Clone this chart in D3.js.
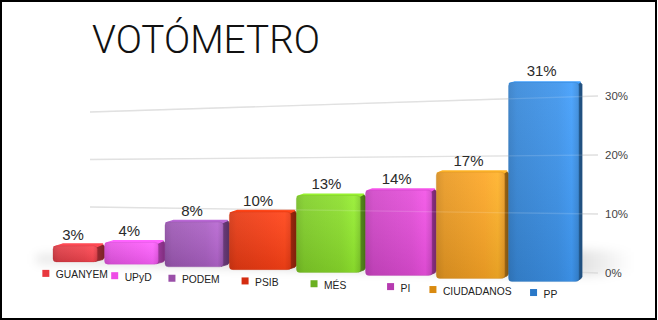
<!DOCTYPE html>
<html>
<head>
<meta charset="utf-8">
<script src="https://cdn.jsdelivr.net/npm/d3@7/dist/d3.min.js"></script>
<style>
  html, body { margin: 0; padding: 0; background: #fff; }
  svg { display: block; }
</style>
</head>
<body>
<svg id="chart" width="658" height="320"></svg>
<script>
// Poll results per party
const categories = ["GUANYEM", "UPyD", "PODEM", "PSIB", "MÉS", "PI", "CIUDADANOS", "PP"];
const values = [3, 4, 8, 10, 13, 14, 17, 31];
const barColors = ["#e8404a", "#f058ee", "#a45cbc", "#f03c14", "#86d62a", "#da4ad0", "#f2a024", "#3a8ee2"];
const legendColors = ["#e8383e", "#ee4ce6", "#9a4fa8", "#d42c10", "#6ab020", "#b63ab0", "#d98a10", "#2a78c8"];
const axisTicks = [0, 10, 20, 30];
const tickLabels = ["0%", "10%", "20%", "30%"];
const titleText = "VOTÓMETRO";

const W = 658, H = 320;
const svg = d3.select("#chart");
const defs = svg.append("defs");

// ---- perspective scales ----
// horizontal: band position along the row, compressed toward the left
const band = d3.scaleBand().domain(categories).range([0, 1]).paddingInner(0).paddingOuter(0);
const xPersp = d3.scalePow().exponent(1.12).domain([0, 1]).range([53, 582]);
// back wall: value -> y at the wall's left and right ends
const wallX = [90, 598];
const yWallLeft = d3.scaleLinear().domain([0, 30]).range([254.5, 112]);
const yWallRight = d3.scaleLinear().domain([0, 30]).range([273, 96]);
// floor line and units-per-percent for the bars (depend on screen x)
const floorY = d3.scaleLinear().domain([78, 543]).range([262, 281.5]);
const unitPx = d3.scaleLinear().domain([78, 543]).range([5.35, 6.42]);
// legend row follows the floor
const legendTop = d3.scaleLinear().domain([78, 543]).range([270, 289]);
// vanishing point of the bars' depth edges
const vp = { x: 950, y: 40 }, depth = 0.0085;
const back = (x, y) => [x + (vp.x - x) * depth, y + (vp.y - y) * depth];

// ---- frame ----
svg.append("rect").attr("x", 1).attr("y", 1).attr("width", W - 3).attr("height", H - 2)
  .attr("fill", "#fff").attr("stroke", "#000").attr("stroke-width", 2);

// ---- title ----
const title = svg.append("text")
  .attr("x", 92).attr("y", 53)
  .attr("font-family", "Roboto, Lato, 'Open Sans', sans-serif")
  .attr("font-weight", 300)
  .attr("font-size", 38)
  .attr("fill", "#111")
  .text(titleText);
const tw = title.node().getComputedTextLength();
title.attr("font-size", 38 * 228 / tw);

// ---- floor shadow ----
const blur = defs.append("filter").attr("id", "soft").attr("x", "-20%").attr("y", "-50%")
  .attr("width", "140%").attr("height", "200%");
blur.append("feGaussianBlur").attr("stdDeviation", 5);
const shadowGrad = defs.append("linearGradient").attr("id", "shadowGrad");
shadowGrad.append("stop").attr("offset", "0%").attr("stop-color", "#000").attr("stop-opacity", 0.08);
shadowGrad.append("stop").attr("offset", "85%").attr("stop-color", "#000").attr("stop-opacity", 0.2);
shadowGrad.append("stop").attr("offset", "100%").attr("stop-color", "#000").attr("stop-opacity", 0.0);
svg.append("path")
  .attr("d", d3.line()([[36, 254], [600, 250], [632, 252], [632, 272], [600, 276], [36, 264]]) + "Z")
  .attr("fill", "url(#shadowGrad)")
  .attr("filter", "url(#soft)");

// ---- gridlines on the back wall ----
const gridG = svg.append("g");
gridG.selectAll("line").data(axisTicks).join("line")
  .attr("x1", wallX[0]).attr("x2", wallX[1])
  .attr("y1", d => yWallLeft(d)).attr("y2", d => yWallRight(d))
  .attr("stroke", "#dcdcdc").attr("stroke-width", 1.3);

svg.append("g").selectAll("text").data(axisTicks).join("text")
  .attr("x", 605).attr("y", d => yWallRight(d) + 4)
  .attr("font-family", "'Liberation Sans', Arial, sans-serif")
  .attr("font-size", 11.5).attr("fill", "#444")
  .text((d, i) => tickLabels[i]);

// ---- bar geometry ----
const bars = categories.map((c, i) => {
  const L = xPersp(band(c));
  const R = xPersp(band(c) + band.bandwidth());
  const x0 = L;
  const x1 = (R - vp.x * depth) / (1 - depth);
  const xc = (x0 + x1) / 2;
  const yScale = d3.scaleLinear().domain([0, 1]).range([floorY(xc), floorY(xc) - unitPx(xc)]);
  return { c, i, v: values[i], x0, x1, xc, bottom: yScale(0), top: yScale(values[i]), color: barColors[i] };
});

// gradients for the faces
bars.forEach(b => {
  const base = d3.color(b.color);
  const g = defs.append("linearGradient").attr("id", "front" + b.i)
    .attr("x1", "0%").attr("x2", "100%").attr("y1", "0%").attr("y2", "0%");
  g.append("stop").attr("offset", "0%").attr("stop-color", base.darker(0.35));
  g.append("stop").attr("offset", "12%").attr("stop-color", base.darker(0.1));
  g.append("stop").attr("offset", "70%").attr("stop-color", base.brighter(0.12));
  g.append("stop").attr("offset", "90%").attr("stop-color", base.brighter(0.3));
  g.append("stop").attr("offset", "100%").attr("stop-color", base.darker(0.1));
  const s = defs.append("linearGradient").attr("id", "side" + b.i)
    .attr("x1", "0%").attr("x2", "100%");
  s.append("stop").attr("offset", "0%").attr("stop-color", base.darker(1.1));
  s.append("stop").attr("offset", "100%").attr("stop-color", base.darker(1.8));
  const v = defs.append("linearGradient").attr("id", "shade" + b.i)
    .attr("x1", "0%").attr("x2", "0%").attr("y1", "0%").attr("y2", "100%");
  v.append("stop").attr("offset", "0%").attr("stop-color", "#fff").attr("stop-opacity", 0.08);
  v.append("stop").attr("offset", "100%").attr("stop-color", "#000").attr("stop-opacity", 0.1);
});

const barG = svg.append("g");
const barSel = barG.selectAll("g").data(bars).join("g");

// side face
barSel.append("path")
  .attr("d", b => {
    const bt = back(b.x1, b.top), bb = back(b.x1, b.bottom);
    return d3.line()([[b.x1 - 2, b.top + 0.5], [bt[0] - 1.5, bt[1] + 0.5], [bt[0], bt[1] + 2.5],
      [bb[0], bb[1] - 2.5], [bb[0] - 1.5, bb[1] - 0.5], [b.x1 - 2, b.bottom - 0.5]]) + "Z";
  })
  .attr("fill", b => `url(#side${b.i})`)
  .attr("stroke", b => d3.color(b.color).darker(1.4)).attr("stroke-width", 0.8)
  .attr("stroke-linejoin", "round");

// top face
barSel.append("path")
  .attr("d", b => {
    const bl = back(b.x0, b.top), br = back(b.x1, b.top);
    return d3.line()([[b.x0 + 1, b.top + 1], [bl[0] + 2, bl[1]], [br[0] - 2, br[1]], [b.x1 - 1, b.top + 1]]) + "Z";
  })
  .attr("fill", b => d3.color(b.color).brighter(0.35))
  .attr("stroke", b => d3.color(b.color).brighter(0.35)).attr("stroke-width", 1.5)
  .attr("stroke-linejoin", "round");

// front face
barSel.append("rect")
  .attr("x", b => b.x0).attr("y", b => b.top)
  .attr("width", b => b.x1 - b.x0).attr("height", b => b.bottom - b.top)
  .attr("rx", 3.5)
  .attr("fill", b => `url(#front${b.i})`);
barSel.append("rect")
  .attr("x", b => b.x0).attr("y", b => b.top)
  .attr("width", b => b.x1 - b.x0).attr("height", b => b.bottom - b.top)
  .attr("rx", 3.5)
  .attr("fill", b => `url(#shade${b.i})`)
  .attr("stroke", b => d3.color(b.color).darker(0.6)).attr("stroke-opacity", 0.35).attr("stroke-width", 0.8);

// gridlines showing faintly through the bars
svg.append("g").selectAll("line").data(axisTicks.filter(d => d > 0)).join("line")
  .attr("x1", wallX[0]).attr("x2", wallX[1])
  .attr("y1", d => yWallLeft(d)).attr("y2", d => yWallRight(d))
  .attr("stroke", "#ffffff").attr("stroke-opacity", 0.14).attr("stroke-width", 1.3);

// ---- value labels ----
svg.append("g").selectAll("text").data(bars).join("text")
  .attr("x", b => b.xc - 2).attr("y", b => b.top - 6)
  .attr("text-anchor", "middle")
  .attr("font-family", "'Liberation Sans', Arial, sans-serif")
  .attr("font-size", 15).attr("fill", "#2a2a2a")
  .text(b => b.v + "%");

// ---- legend ----
const legG = svg.append("g");
const items = legG.selectAll("g").data(bars).join("g");
items.append("text")
  .attr("font-family", "'Liberation Sans', Arial, sans-serif")
  .attr("font-size", 10.3).attr("fill", "#222")
  .text(b => b.c);
items.each(function (b) {
  const g = d3.select(this);
  const t = g.select("text");
  const w = t.node().getComputedTextLength() + 13.5;
  const left = b.xc - w / 2;
  const top = legendTop(b.xc);
  g.insert("rect", "text")
    .attr("x", left).attr("y", top).attr("width", 7).attr("height", 7)
    .attr("fill", legendColors[b.i]);
  t.attr("x", left + 13.5).attr("y", top + 8.5);
});
</script>
</body>
</html>
